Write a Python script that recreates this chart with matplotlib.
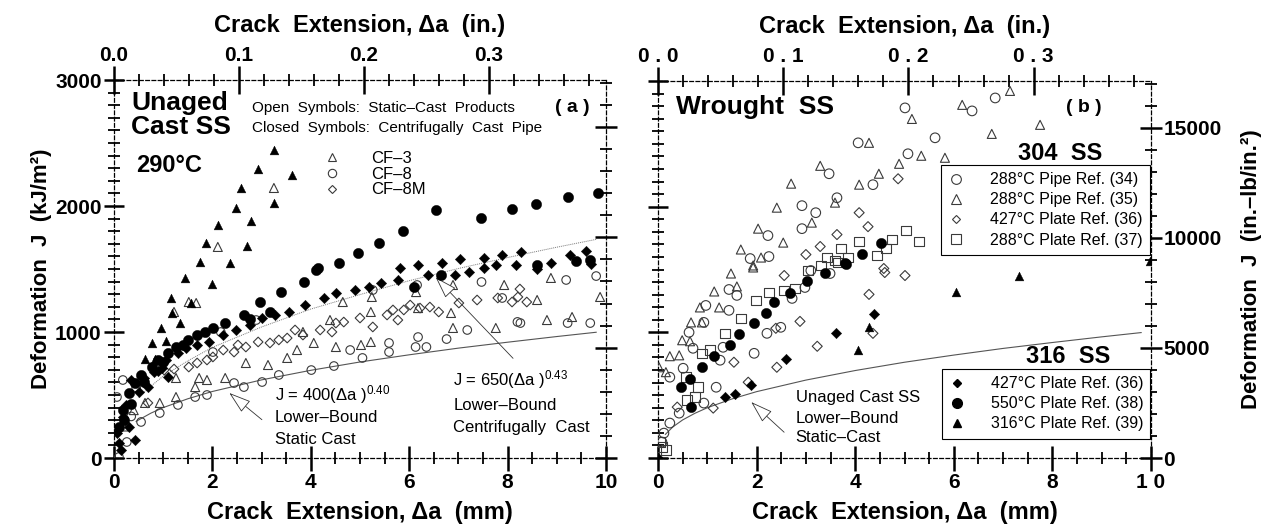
import matplotlib
matplotlib.use("Agg")
import matplotlib.pyplot as plt
from matplotlib.lines import Line2D
from matplotlib.ticker import MultipleLocator, NullFormatter, FixedLocator, FixedFormatter

plt.rcParams['font.family'] = ['Liberation Sans', 'DejaVu Sans']
plt.rcParams['mathtext.fontset'] = 'custom'
plt.rcParams['mathtext.rm'] = 'Liberation Sans'
plt.rcParams['mathtext.it'] = 'Liberation Sans'

NARROW = ['Liberation Sans Narrow', 'Liberation Sans', 'DejaVu Sans']
MM_PER_IN = 25.4
KJ_PER_INLB = 0.1751268

# ---------------- (a) unaged cast SS, x in mm, J in kJ/m2 ----------------
a_cf3_closed_x = [3.25, 2.93, 3.62, 2.58, 3.25, 2.48, 2.78, 2.11, 1.87, 2.70, 1.75, 2.36, 1.44, 2.00,
                  1.16, 1.56, 1.18, 1.34, 0.96, 1.06, 0.77, 0.63, 0.83]
a_cf3_closed_y = [2444, 2293, 2246, 2143, 2024, 1984, 1881, 1849, 1706, 1683, 1556, 1548, 1429, 1381,
                  1270, 1230, 1151, 1071, 1032, 929, 913, 786, 786]

a_cf8_closed_x = [9.83, 9.22, 8.57, 8.09, 6.55, 7.45, 5.88, 5.39, 4.95, 4.58, 4.14, 4.11, 3.86, 3.39,
                  2.97, 2.64, 2.25, 2.01, 1.69, 1.50, 1.26, 1.10, 0.89, 0.77, 0.55, 0.43, 0.30, 0.18,
                  0.10, 6.64, 6.10, 9.68, 8.60, 3.17, 2.76, 9.40, 0.20, 0.35, 0.60, 1.00, 1.40, 1.85]
a_cf8_closed_y = [2103, 2071, 2016, 1976, 1968, 1905, 1802, 1706, 1627, 1548, 1508, 1492, 1397, 1317,
                  1238, 1135, 1071, 1032, 976, 937, 881, 833, 778, 722, 659, 595, 516, 381,
                  246, 1452, 1357, 1571, 1532, 1159, 1103, 1560, 300, 430, 600, 760, 900, 1000]

a_cf8m_closed_x = [6.18, 6.67, 7.03, 7.52, 7.89, 8.28, 5.81, 9.27, 8.88, 6.38, 6.93, 7.22, 7.52, 7.76,
                   8.17, 5.77, 5.43, 5.18, 4.89, 4.51, 4.27, 3.88, 3.56, 3.27, 3.01, 2.76, 2.48, 2.22,
                   1.93, 1.69, 1.47, 1.30, 1.06, 0.98, 0.81, 0.60, 0.35, 0.51, 1.10, 0.18, 0.43, 0.14,
                   0.06, 9.70, 8.60, 0.25, 0.10, 0.30, 0.70, 0.90, 9.60]
a_cf8m_closed_y = [1532, 1548, 1579, 1587, 1611, 1635, 1508, 1611, 1548, 1452, 1452, 1476, 1508, 1532,
                   1532, 1413, 1389, 1357, 1333, 1310, 1270, 1214, 1159, 1135, 1111, 1056, 1016, 976,
                   921, 897, 873, 833, 778, 714, 683, 635, 619, 524, 643, 325, 143, 63,
                   198, 1540, 1500, 420, 120, 250, 560, 690, 1640]

a_cf3_open_x = [3.25, 2.11, 1.67, 9.88, 8.88, 8.60, 7.93, 6.89, 6.85, 6.89, 7.76, 8.80, 9.31, 6.14,
                6.18, 5.24, 5.22, 5.22, 5.02, 4.65, 4.39, 4.51, 4.06, 3.72, 3.52, 3.13, 2.68, 2.26,
                1.89, 1.65, 1.26, 1.73, 0.93, 0.63, 1.26, 1.52, 1.22, 3.84, 0.40, 0.20]
a_cf3_open_y = [2143, 1675, 1230, 1278, 1429, 1254, 1373, 1373, 1151, 1032, 1032, 1095, 1119, 1317,
                1190, 1278, 1159, 921, 897, 1238, 1095, 881, 913, 857, 794, 738, 754, 635,
                619, 563, 635, 635, 437, 437, 484, 1238, 1159, 1000, 380, 250]

a_cf8_open_x = [9.80, 9.19, 7.47, 7.89, 9.68, 9.22, 8.26, 7.18, 6.76, 6.35, 6.18, 6.13, 5.59, 5.59,
                5.05, 4.80, 4.47, 4.01, 3.35, 3.01, 2.64, 2.44, 1.89, 1.65, 1.30, 0.93, 0.55, 0.26,
                0.10, 0.18, 0.06, 5.26, 6.16, 8.20, 2.89, 2.17, 2.01, 0.35, 0.45]
a_cf8_open_y = [1444, 1413, 1397, 1270, 1071, 1071, 1071, 1016, 944, 881, 960, 881, 913, 841,
                794, 857, 730, 698, 659, 603, 563, 595, 500, 484, 421, 357, 286, 127,
                8, 619, 484, 1333, 1373, 1080, 1095, 1000, 841, 330, 560]

a_cf8m_open_x = [8.25, 8.21, 8.09, 8.39, 7.80, 7.38, 7.01, 6.60, 6.42, 6.02, 6.22, 5.89, 5.67, 5.77,
                 5.55, 5.26, 5.00, 4.67, 4.51, 4.43, 4.19, 3.84, 3.68, 3.52, 3.35, 3.17, 2.93, 2.68,
                 2.52, 2.44, 2.22, 2.01, 1.89, 1.69, 1.52, 1.22, 1.02, 0.69]
a_cf8m_open_y = [1341, 1278, 1238, 1238, 1270, 1254, 1230, 1159, 1198, 1214, 1190, 1175, 1175, 1095,
                 1135, 1040, 1111, 1079, 1071, 1000, 1016, 976, 1016, 952, 937, 913, 921, 881,
                 897, 841, 857, 802, 778, 754, 722, 706, 698, 437]

# lower-bound curves
lb_static_x = [0.45, 0.75, 1.0, 1.5, 2.0, 3.0, 4.0, 5.0, 6.0, 7.0, 8.0, 9.0, 9.8]
lb_static_y = [291, 356, 400, 470, 528, 620, 696, 762, 819, 872, 919, 964, 998]
lb_centri_x = [0.5, 0.75, 1.0, 1.5, 2.0, 3.0, 4.0, 5.0, 6.0, 7.0, 8.0, 9.0, 9.8]
lb_centri_y = [481, 570, 650, 771, 878, 1040, 1182, 1297, 1407, 1504, 1591, 1673, 1735]
lb_wrought_x = [0.15, 0.3, 0.5, 0.75, 1.0, 1.5, 2.0, 3.0, 4.0, 5.0, 6.0, 7.0, 8.0, 9.0, 9.8]
lb_wrought_y = [188, 247, 303, 356, 400, 470, 528, 620, 696, 762, 819, 872, 919, 964, 998]

# ---------------- (b) wrought SS ----------------
b_pipe34_x = [5.01, 6.37, 6.84, 5.62, 5.07, 4.06, 3.47, 4.36, 3.63, 2.92, 3.20, 2.92, 2.23, 2.25,
              1.87, 1.44, 1.60, 0.97, 1.44, 0.63, 0.93, 1.26, 1.32, 0.71, 0.24, 0.51, 1.18, 0.93,
              0.43, 0.24, 0.12, 0.08, 1.95, 2.21, 2.49, 2.72, 2.98, 3.10, 3.49]
b_pipe34_y = [2786, 2762, 2865, 2548, 2421, 2508, 2262, 2175, 2071, 2008, 1952, 1825, 1770, 1603,
              1587, 1341, 1294, 1214, 1175, 1000, 1079, 778, 881, 873, 643, 714, 563, 437,
              357, 278, 198, 127, 833, 992, 1040, 1270, 1357, 1492, 1468]

b_pipe35_x = [7.14, 6.17, 5.15, 7.75, 6.77, 4.28, 5.82, 5.34, 4.89, 4.48, 3.29, 4.08, 2.70, 2.41,
              3.59, 3.12, 2.03, 2.54, 1.68, 2.09, 1.93, 1.48, 1.93, 1.14, 1.60, 0.85, 1.24, 0.67,
              0.89, 0.49, 0.65, 0.24, 0.43, 0.02, 0.16]
b_pipe35_y = [2921, 2810, 2698, 2651, 2579, 2508, 2389, 2405, 2341, 2262, 2325, 2175, 2183, 1992,
              2032, 1873, 1825, 1714, 1659, 1595, 1532, 1468, 1516, 1325, 1365, 1198, 1198, 1079,
              1079, 937, 929, 810, 817, 722, 683]

b_plate36_x = [4.87, 4.08, 4.26, 3.63, 3.29, 3.00, 4.58, 4.60, 5.01, 4.28, 4.36, 2.88, 2.39, 3.23,
               2.41, 1.54, 1.83, 1.12, 0.39, 2.56]
b_plate36_y = [2222, 1952, 1841, 1778, 1683, 1619, 1508, 1476, 1452, 1302, 992, 1087, 1032, 889,
               722, 762, 603, 397, 405, 1452]

b_plate37_x = [5.03, 4.75, 5.29, 4.62, 4.08, 3.71, 4.44, 3.43, 3.59, 3.85, 0.57, 0.81, 0.75, 0.59,
               0.89, 1.05, 1.36, 1.68, 1.99, 2.25, 2.56, 2.78, 3.04, 3.31, 3.65, 0.08, 0.16, 0.04]
b_plate37_y = [1810, 1738, 1722, 1667, 1722, 1667, 1611, 1595, 1571, 1595, 643, 563, 484, 460,
               833, 857, 992, 1111, 1254, 1317, 1333, 1349, 1492, 1532, 1556, 87, 63, 127]

b_316_plate36_x = [4.38, 3.61, 2.60, 1.89, 1.56, 1.36, 0.00]
b_316_plate36_y = [1143, 992, 786, 579, 508, 484, 0]

b_316_plate38_x = [4.52, 4.14, 3.79, 3.39, 3.81, 3.02, 2.68, 2.35, 2.19, 1.95, 1.64, 1.46, 1.14, 0.89,
                   0.65, 0.47, 0.67]
b_316_plate38_y = [1714, 1627, 1548, 1476, 1540, 1405, 1310, 1238, 1151, 1071, 984, 897, 810, 722,
                   627, 563, 405]

b_316_plate39_x = [7.32, 6.04, 4.28, 4.06, 9.98]
b_316_plate39_y = [1452, 1317, 1040, 857, 1571]

legend_304 = ["288°C Pipe Ref. (34)", "288°C Pipe Ref. (35)", "427°C Plate Ref. (36)", "288°C Plate Ref. (37)"]
legend_316 = ["427°C Plate Ref. (36)", "550°C Plate Ref. (38)", "316°C Plate Ref. (39)"]
legend_cast = ["CF\u20133", "CF\u20138", "CF\u20138M"]

mm_ticks = [0, 2, 4, 6, 8, 10]
in_ticks = [0.0, 0.1, 0.2, 0.3]

OPEN_EC = '#3a3a3a'
ARROW = dict(arrowstyle='-|>,head_width=0.45,head_length=1.4', fc='white', ec='#333333', lw=0.6)


def mm2in(x):
    return x / MM_PER_IN


def in2mm(x):
    return x * MM_PER_IN


def kj2inlb(y):
    return y / KJ_PER_INLB


def inlb2kj(y):
    return y * KJ_PER_INLB


def open_pts(ax, x, y, marker, s):
    ax.scatter(x, y, marker=marker, s=s, facecolors='none', edgecolors=OPEN_EC, linewidths=0.8, zorder=3)


def closed_pts(ax, x, y, marker, s):
    ax.scatter(x, y, marker=marker, s=s, color='black', linewidths=0.3, zorder=4)


def style_axes(ax, right_labels):
    ax.set_xlim(0, 10)
    ax.set_ylim(0, 3000)
    for side in ['top', 'right']:
        ax.spines[side].set_visible(False)
    for side in ['left', 'bottom']:
        ax.spines[side].set_linestyle((0, (3, 2)))
        ax.spines[side].set_linewidth(0.9)
    ax.xaxis.set_major_locator(FixedLocator(mm_ticks))
    ax.xaxis.set_minor_locator(MultipleLocator(0.5))
    ax.yaxis.set_major_locator(MultipleLocator(1000))
    ax.yaxis.set_minor_locator(MultipleLocator(100))
    ax.tick_params(which='major', direction='inout', length=14, width=1.8, labelsize=15, pad=2)
    ax.tick_params(which='minor', direction='inout', length=8, width=1.3)
    ax.tick_params(axis='x', which='major', length=18)
    if right_labels:
        ax.tick_params(axis='y', labelleft=False)
        ax.xaxis.set_major_formatter(FixedFormatter(['0', '2', '4', '6', '8', '1 0']))
    else:
        ax.xaxis.set_major_formatter(FixedFormatter([str(t) for t in mm_ticks]))
    for lab in ax.get_xticklabels() + ax.get_yticklabels():
        lab.set_fontweight('bold')

    top = ax.secondary_xaxis('top', functions=(mm2in, in2mm))
    top.xaxis.set_major_locator(FixedLocator(in_ticks))
    top.xaxis.set_minor_locator(MultipleLocator(0.02))
    if right_labels:
        top.xaxis.set_major_formatter(FixedFormatter([' . '.join(f'{t:.1f}'.split('.')) for t in in_ticks]))
    else:
        top.xaxis.set_major_formatter(FixedFormatter([f'{t:.1f}' for t in in_ticks]))
    top.tick_params(which='major', direction='inout', length=20, width=1.8, labelsize=15, pad=1)
    top.tick_params(which='minor', direction='inout', length=9, width=1.3)
    top.spines['top'].set_linestyle((0, (3, 2)))
    top.spines['top'].set_linewidth(0.9)
    for lab in top.get_xticklabels():
        lab.set_fontweight('bold')
    top.set_xlabel('Crack  Extension, \u0394a  (in.)', fontsize=17, fontweight='bold', labelpad=10)

    rgt = ax.secondary_yaxis('right', functions=(kj2inlb, inlb2kj))
    rgt.yaxis.set_major_locator(MultipleLocator(5000))
    rgt.yaxis.set_minor_locator(MultipleLocator(1000))
    rgt.tick_params(which='major', direction='inout', length=16, width=1.8, labelsize=15, pad=1)
    rgt.tick_params(which='minor', direction='inout', length=9, width=1.3)
    rgt.spines['right'].set_linestyle((0, (3, 2)))
    rgt.spines['right'].set_linewidth(0.9)
    if right_labels:
        for lab in rgt.get_yticklabels():
            lab.set_fontweight('bold')
        rgt.set_ylabel('Deformation  J  (in.\u2013lb/in.\u00b2)', fontsize=16, fontweight='bold',
                       labelpad=14)
    else:
        rgt.yaxis.set_major_formatter(NullFormatter())
    ax.set_xlabel('Crack  Extension, \u0394a  (mm)', fontsize=17, fontweight='bold', labelpad=6)


fig = plt.figure(figsize=(12.74, 5.32), dpi=100)
ax_a = fig.add_axes([114 / 1274, 74 / 532, 492 / 1274, 378 / 532])
ax_b = fig.add_axes([658 / 1274, 74 / 532, 493 / 1274, 377 / 532])

# ---- panel (a)
ax_a.plot(lb_static_x, lb_static_y, color='#555555', lw=0.8, zorder=2)
ax_a.plot(lb_centri_x, lb_centri_y, color='#777777', lw=0.7, ls=(0, (1, 1)), zorder=2)
open_pts(ax_a, a_cf3_open_x, a_cf3_open_y, '^', 42)
open_pts(ax_a, a_cf8_open_x, a_cf8_open_y, 'o', 38)
open_pts(ax_a, a_cf8m_open_x, a_cf8m_open_y, 'D', 24)
closed_pts(ax_a, a_cf3_closed_x, a_cf3_closed_y, '^', 40)
closed_pts(ax_a, a_cf8_closed_x, a_cf8_closed_y, 'o', 55)
closed_pts(ax_a, a_cf8m_closed_x, a_cf8m_closed_y, 'D', 28)
style_axes(ax_a, right_labels=False)
ax_a.set_ylabel('Deformation  J  (kJ/m\u00b2)', fontsize=16, fontweight='bold', labelpad=2)

ax_a.text(0.035, 0.97, 'Unaged\nCast SS', transform=ax_a.transAxes, fontsize=19, fontweight='bold',
          va='top', ha='left', linespacing=1.0)
ax_a.text(0.045, 0.775, '290°C', transform=ax_a.transAxes, fontsize=17, fontweight='bold',
          va='center', ha='left')
ax_a.text(0.28, 0.926, 'Open  Symbols:  Static\u2013Cast  Products', transform=ax_a.transAxes,
          fontsize=11, va='center', ha='left', family=NARROW)
ax_a.text(0.28, 0.873, 'Closed  Symbols:  Centrifugally  Cast  Pipe', transform=ax_a.transAxes,
          fontsize=11, va='center', ha='left', family=NARROW)
ax_a.text(0.967, 0.926, '( a )', transform=ax_a.transAxes, fontsize=14, fontweight='bold',
          va='center', ha='right')
cast_handles = [Line2D([], [], ls='', marker=m, mfc='none', mec=OPEN_EC, mew=0.8, ms=s)
                for m, s in zip(['^', 'o', 'D'], [6, 6, 4.5])]
ax_a.legend(cast_handles, legend_cast, loc='upper left', bbox_to_anchor=(0.41, 0.835),
            frameon=False, prop={'family': NARROW, 'size': 12}, handlelength=1.0,
            handletextpad=1.8, labelspacing=0.05, borderpad=0)

ax_a.text(3.27, 500, 'J = 400(\u0394a )$^{0.40}$', fontsize=12, va='center', ha='left')
ax_a.text(3.27, 320, 'Lower\u2013Bound', fontsize=12, va='center', ha='left')
ax_a.text(3.27, 145, 'Static Cast', fontsize=12, va='center', ha='left')
ax_a.annotate('', xy=(2.3, 530), xytext=(3.05, 290), arrowprops=ARROW)
ax_a.text(6.9, 620, 'J = 650(\u0394a )$^{0.43}$', fontsize=12, va='center', ha='left')
ax_a.text(6.9, 420, 'Lower\u2013Bound', fontsize=12, va='center', ha='left')
ax_a.text(6.9, 240, 'Centrifugally  Cast', fontsize=12, va='center', ha='left')
ax_a.annotate('', xy=(6.5, 1450), xytext=(8.15, 775), arrowprops=ARROW)

# ---- panel (b)
ax_b.plot(lb_wrought_x, lb_wrought_y, color='#555555', lw=0.8, zorder=2)
open_pts(ax_b, b_pipe34_x, b_pipe34_y, 'o', 48)
open_pts(ax_b, b_pipe35_x, b_pipe35_y, '^', 42)
open_pts(ax_b, b_plate36_x, b_plate36_y, 'D', 26)
open_pts(ax_b, b_plate37_x, b_plate37_y, 's', 48)
closed_pts(ax_b, b_316_plate36_x, b_316_plate36_y, 'D', 28)
closed_pts(ax_b, b_316_plate38_x, b_316_plate38_y, 'o', 55)
closed_pts(ax_b, b_316_plate39_x, b_316_plate39_y, '^', 40)
style_axes(ax_b, right_labels=True)

ax_b.text(0.037, 0.931, 'Wrought  SS', transform=ax_b.transAxes, fontsize=19, fontweight='bold',
          va='center', ha='left')
ax_b.text(0.9, 0.931, '( b )', transform=ax_b.transAxes, fontsize=14, fontweight='bold',
          va='center', ha='right')
ax_b.text(0.815, 0.809, '304  SS', transform=ax_b.transAxes, fontsize=17, fontweight='bold',
          va='center', ha='center')
ax_b.text(0.832, 0.268, '316  SS', transform=ax_b.transAxes, fontsize=17, fontweight='bold',
          va='center', ha='center')

leg_kw = dict(loc='upper left', prop={'family': NARROW, 'size': 11.5}, handlelength=1.0,
              handletextpad=1.6, labelspacing=0.32, borderpad=0.45, borderaxespad=0,
              fancybox=False, edgecolor='black', framealpha=1)
h304 = [Line2D([], [], ls='', marker=m, mfc='none', mec=OPEN_EC, mew=0.8, ms=s)
        for m, s in zip(['o', '^', 'D', 's'], [7, 6.5, 4.5, 7])]
leg1 = ax_b.legend(h304, legend_304, bbox_to_anchor=(0.574, 0.777), **leg_kw)
leg1.get_frame().set_linewidth(0.8)
ax_b.add_artist(leg1)
h316 = [Line2D([], [], ls='', marker=m, color='black', ms=s)
        for m, s in zip(['D', 'o', '^'], [4.5, 7, 6])]
leg2 = ax_b.legend(h316, legend_316, bbox_to_anchor=(0.576, 0.236), **leg_kw)
leg2.get_frame().set_linewidth(0.8)

ax_b.text(2.79, 485, 'Unaged Cast SS', fontsize=12, va='center', ha='left')
ax_b.text(2.79, 318, 'Lower\u2013Bound', fontsize=12, va='center', ha='left')
ax_b.text(2.79, 167, 'Static\u2013Cast', fontsize=12, va='center', ha='left')
ax_b.annotate('', xy=(1.85, 460), xytext=(2.6, 190), arrowprops=ARROW)

fig.savefig('out.png', dpi=100)
